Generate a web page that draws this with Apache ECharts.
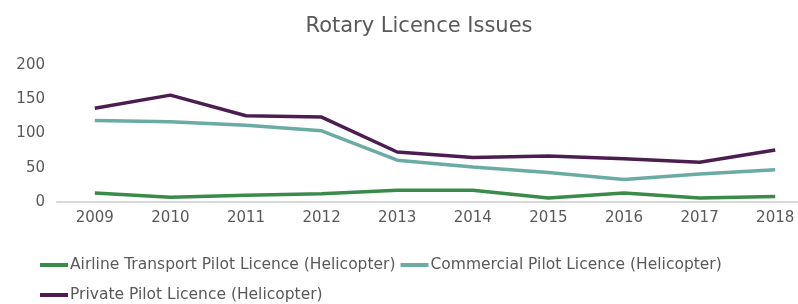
<!DOCTYPE html>
<html>
<head>
<meta charset="utf-8">
<script src="https://cdn.jsdelivr.net/npm/echarts@6/dist/echarts.min.js"></script>
<style>
  html, body { margin: 0; padding: 0; background: #fff; }
  #chart { width: 798px; height: 304px; }
</style>
</head>
<body>
<div id="chart"></div>
<script>
// years on the x axis
const years = ['2009', '2010', '2011', '2012', '2013', '2014', '2015', '2016', '2017', '2018'];
// licences issued per year
const airline = [13, 7, 10, 12, 17, 17, 6, 13, 6, 8];
const commercial = [119, 117, 112, 104, 61, 51, 43, 33, 41, 47];
const privateLic = [137, 156, 126, 124, 73, 65, 67, 63, 58, 76];
const yTicks = [0, 50, 100, 150, 200];

const names = ['Airline Transport Pilot Licence (Helicopter)', 'Commercial Pilot Licence (Helicopter)', 'Private Pilot Licence (Helicopter)'];
const font = 'DejaVu Sans';
const txt = '#595959';

// two legends so the rows can sit further apart than the items
const legendBase = {
  left: 40,
  padding: 0,
  itemWidth: 28,
  itemHeight: 4,
  itemGap: 5,
  icon: 'rect',
  textStyle: { fontFamily: font, fontSize: 15.5, color: txt, padding: [0, 0, 0, -3] }
};

const chart = echarts.init(document.getElementById('chart'));
chart.setOption({
  animation: false,
  title: {
    text: 'Rotary Licence Issues',
    left: 414,
    top: 11,
    textAlign: 'center',
    textStyle: { fontFamily: font, fontSize: 21, fontWeight: 'normal', color: txt }
  },
  legend: [
    Object.assign({}, legendBase, { top: 257, data: names.slice(0, 2) }),
    Object.assign({}, legendBase, { top: 287, data: names.slice(2) })
  ],
  // the last category runs past the right edge, as in the original
  grid: { left: 57, width: 756, top: 65, bottom: 102, outerBoundsMode: 'none' },
  xAxis: {
    type: 'category',
    data: years,
    boundaryGap: true,
    axisLine: { lineStyle: { color: '#d9d9d9', width: 2 } },
    axisTick: { show: false },
    axisLabel: { fontFamily: font, fontSize: 15, color: txt, margin: 9 }
  },
  yAxis: {
    type: 'value',
    min: yTicks[0],
    max: yTicks[yTicks.length - 1],
    interval: 50,
    splitLine: { show: false },
    axisLine: { show: false },
    axisLabel: { fontFamily: font, fontSize: 15, color: txt, margin: 12 }
  },
  series: [
    {
      name: names[0],
      type: 'line', data: airline, symbol: 'none',
      lineStyle: { width: 3.5, color: '#3a8a4a' }, itemStyle: { color: '#3a8a4a' }
    },
    {
      name: names[1],
      type: 'line', data: commercial, symbol: 'none',
      lineStyle: { width: 3.5, color: '#6aaba4' }, itemStyle: { color: '#6aaba4' }
    },
    {
      name: names[2],
      type: 'line', data: privateLic, symbol: 'none',
      lineStyle: { width: 3.5, color: '#4b1d50' }, itemStyle: { color: '#4b1d50' }
    }
  ]
});
</script>
</body>
</html>
